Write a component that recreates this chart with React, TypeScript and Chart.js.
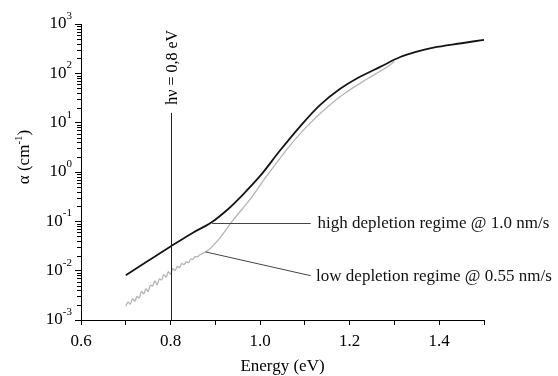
import React, { useEffect, useRef } from "react";
import { Chart, registerables } from "chart.js";

Chart.register(...registerables);

// High depletion regime @ 1.0 nm/s (black)
const highEnergy = [0.70, 0.75, 0.80, 0.85, 0.89, 0.93, 0.955, 1.00, 1.044, 1.089, 1.133, 1.178, 1.223, 1.268, 1.313, 1.35, 1.387, 1.45, 1.50];
const highAlpha = [0.0081, 0.0158, 0.0309, 0.0589, 0.0933, 0.182, 0.302, 0.832, 2.69, 8.32, 22.4, 47.9, 85.1, 135, 214, 275, 331, 407, 479];

// Low depletion regime @ 0.55 nm/s (grey)
const lowEnergy = [0.700, 0.705, 0.710, 0.715, 0.720, 0.725, 0.730, 0.735, 0.740, 0.745, 0.750, 0.755, 0.760, 0.765, 0.770, 0.775, 0.780, 0.785, 0.790, 0.795, 0.800, 0.805, 0.810, 0.815, 0.820, 0.825, 0.830, 0.835, 0.840, 0.845, 0.850, 0.855, 0.860, 0.865, 0.870, 0.875, 0.880, 0.89, 0.91, 0.94, 0.977, 1.014, 1.059, 1.104, 1.149, 1.193, 1.238, 1.268, 1.29, 1.30];
const lowAlpha = [0.0019, 0.0023, 0.0021, 0.0027, 0.0024, 0.0030, 0.0028, 0.0038, 0.0034, 0.0043, 0.0038, 0.0051, 0.0049, 0.0062, 0.0052, 0.0068, 0.0065, 0.0083, 0.0074, 0.0095, 0.0085, 0.0111, 0.0100, 0.0122, 0.0115, 0.0140, 0.0132, 0.0153, 0.0145, 0.0172, 0.0170, 0.0193, 0.0191, 0.0207, 0.0219, 0.0232, 0.0245, 0.0290, 0.0457, 0.107, 0.275, 0.813, 2.82, 8.32, 20.4, 41.7, 75.9, 110, 148, 174];

const xMin = 0.6;
const xMax = 1.5;
const yExponents = [-3, -2, -1, 0, 1, 2, 3];
const xTitle = "Energy (eV)";
const yTitleMain = "α (cm";
const yTitleSup = "-1";
const yTitleEnd = ")";

const photonEnergy = 0.8;
const photonLineTop = 15.8;
const photonLabel = "hν = 0,8 eV";
const photonLabelAt = 23;

const highLabel = "high depletion regime @ 1.0 nm/s";
const highAnchor = { x: 0.893, y: 0.091 };
const highLineEnd = { x: 1.113, y: 0.091 };
const highTextAt = { x: 1.128, y: 0.091 };

const lowLabel = "low depletion regime @ 0.55 nm/s";
const lowAnchor = { x: 0.878, y: 0.024 };
const lowLineEnd = { x: 1.113, y: 0.0079 };
const lowTextAt = { x: 1.125, y: 0.0076 };

const FONT = '"Liberation Serif", "Times New Roman", serif';

const annotPlugin = {
  id: "annot",
  afterDraw(chart: any) {
    const { ctx, chartArea } = chart;
    const x = chart.scales.x;
    const y = chart.scales.y;
    ctx.save();
    ctx.strokeStyle = "#000";
    ctx.lineWidth = 1;
    // minor log ticks
    const left = chartArea.left;
    for (let e = -3; e < 3; e++) {
      for (let m = 2; m <= 9; m++) {
        const py = Math.round(y.getPixelForValue(m * Math.pow(10, e))) + 0.5;
        ctx.beginPath();
        ctx.moveTo(left - 4, py);
        ctx.lineTo(left, py);
        ctx.stroke();
      }
    }
    // y tick labels with superscripts
    ctx.fillStyle = "#000";
    for (const e of yExponents) {
      const py = y.getPixelForValue(Math.pow(10, e));
      const rightX = left - 9;
      ctx.font = `11px ${FONT}`;
      ctx.textAlign = "right";
      ctx.textBaseline = "alphabetic";
      const sup = String(e);
      const sw = ctx.measureText(sup).width;
      ctx.fillText(sup, rightX, py - 5);
      ctx.font = `17px ${FONT}`;
      ctx.textBaseline = "middle";
      ctx.fillText("10", rightX - sw, py);
    }
    // y title
    ctx.save();
    ctx.translate(25, 157);
    ctx.rotate(-Math.PI / 2);
    ctx.font = `17px ${FONT}`;
    const w1 = ctx.measureText(yTitleMain).width;
    const w3 = ctx.measureText(yTitleEnd).width;
    ctx.font = `11px ${FONT}`;
    const w2 = ctx.measureText(yTitleSup).width;
    let cx = -(w1 + w2 + w3) / 2;
    ctx.textAlign = "left";
    ctx.textBaseline = "middle";
    ctx.font = `17px ${FONT}`;
    ctx.fillText(yTitleMain, cx, 0);
    cx += w1;
    ctx.font = `11px ${FONT}`;
    ctx.fillText(yTitleSup, cx, -6);
    cx += w2;
    ctx.font = `17px ${FONT}`;
    ctx.fillText(yTitleEnd, cx, 0);
    ctx.restore();
    // x title
    ctx.font = `17px ${FONT}`;
    ctx.textAlign = "center";
    ctx.textBaseline = "middle";
    ctx.fillText(xTitle, (chartArea.left + chartArea.right) / 2, 367);

    // photon energy line
    const px = Math.round(x.getPixelForValue(photonEnergy)) + 0.5;
    ctx.strokeStyle = "#222";
    ctx.beginPath();
    ctx.moveTo(px, y.getPixelForValue(photonLineTop));
    ctx.lineTo(px, chartArea.bottom);
    ctx.stroke();
    ctx.save();
    ctx.translate(px + 1, y.getPixelForValue(photonLabelAt));
    ctx.rotate(-Math.PI / 2);
    ctx.font = `16px ${FONT}`;
    ctx.textAlign = "left";
    ctx.textBaseline = "middle";
    ctx.fillText(photonLabel, 0, 0);
    ctx.restore();

    // leader lines
    ctx.strokeStyle = "#444";
    ctx.lineWidth = 1;
    ctx.beginPath();
    ctx.moveTo(x.getPixelForValue(highAnchor.x), Math.round(y.getPixelForValue(highAnchor.y)) + 0.5);
    ctx.lineTo(x.getPixelForValue(highLineEnd.x), Math.round(y.getPixelForValue(highLineEnd.y)) + 0.5);
    ctx.stroke();
    ctx.beginPath();
    ctx.moveTo(x.getPixelForValue(lowAnchor.x), y.getPixelForValue(lowAnchor.y));
    ctx.lineTo(x.getPixelForValue(lowLineEnd.x), y.getPixelForValue(lowLineEnd.y));
    ctx.stroke();
    ctx.font = `17px ${FONT}`;
    ctx.textAlign = "left";
    ctx.textBaseline = "middle";
    ctx.fillStyle = "#111";
    ctx.fillText(highLabel, x.getPixelForValue(highTextAt.x), y.getPixelForValue(highTextAt.y));
    ctx.fillText(lowLabel, x.getPixelForValue(lowTextAt.x), y.getPixelForValue(lowTextAt.y));
    ctx.restore();
  },
};

export default function App() {
  const ref = useRef<HTMLCanvasElement | null>(null);
  useEffect(() => {
    if (!ref.current) return;
    const chart = new Chart(ref.current, {
      type: "line",
      data: {
        datasets: [
          {
            label: "low depletion regime @ 0.55 nm/s",
            data: lowEnergy.map((e, i) => ({ x: e, y: lowAlpha[i] })),
            borderColor: "#b4b4b4",
            borderWidth: 1.3,
            pointRadius: 0,
            tension: 0.3,
            fill: false,
          },
          {
            label: "high depletion regime @ 1.0 nm/s",
            data: highEnergy.map((e, i) => ({ x: e, y: highAlpha[i] })),
            borderColor: "#151515",
            borderWidth: 1.8,
            pointRadius: 0,
            tension: 0.35,
            fill: false,
          },
        ],
      },
      options: {
        animation: false,
        responsive: false,
        devicePixelRatio: 1,
        layout: { padding: { top: 24, right: 74, left: 0, bottom: 0 } },
        plugins: { legend: { display: false }, tooltip: { enabled: false } },
        scales: {
          x: {
            type: "linear",
            min: xMin,
            max: xMax,
            afterFit: (s: any) => {
              s.height = 56;
            },
            border: { display: true, color: "#000", width: 1 },
            grid: { drawOnChartArea: false, drawTicks: true, tickLength: 5, color: "#000" },
            ticks: {
              stepSize: 0.1,
              autoSkip: false,
              maxRotation: 0,
              color: "#000",
              padding: 6,
              font: { family: FONT, size: 17 },
              callback: (v: any) => {
                const t = Math.round(Number(v) * 10);
                return t % 2 === 0 ? (t / 10).toFixed(1) : "";
              },
            },
          },
          y: {
            type: "logarithmic",
            min: 0.001,
            max: 1000,
            afterFit: (s: any) => {
              s.width = 81;
            },
            afterBuildTicks: (s: any) => {
              s.ticks = yExponents.map((e) => ({ value: Math.pow(10, e) }));
            },
            border: { display: true, color: "#000", width: 1 },
            grid: { drawOnChartArea: false, drawTicks: true, tickLength: 6, color: "#000" },
            ticks: { callback: () => "", color: "rgba(0,0,0,0)" },
          },
        },
      },
      plugins: [annotPlugin],
    });
    return () => chart.destroy();
  }, []);
  return (
    <div style={{ position: "fixed", left: 0, top: 0, width: 558, height: 376, background: "#fff" }}>
      <canvas ref={ref} width={558} height={376} />
    </div>
  );
}
